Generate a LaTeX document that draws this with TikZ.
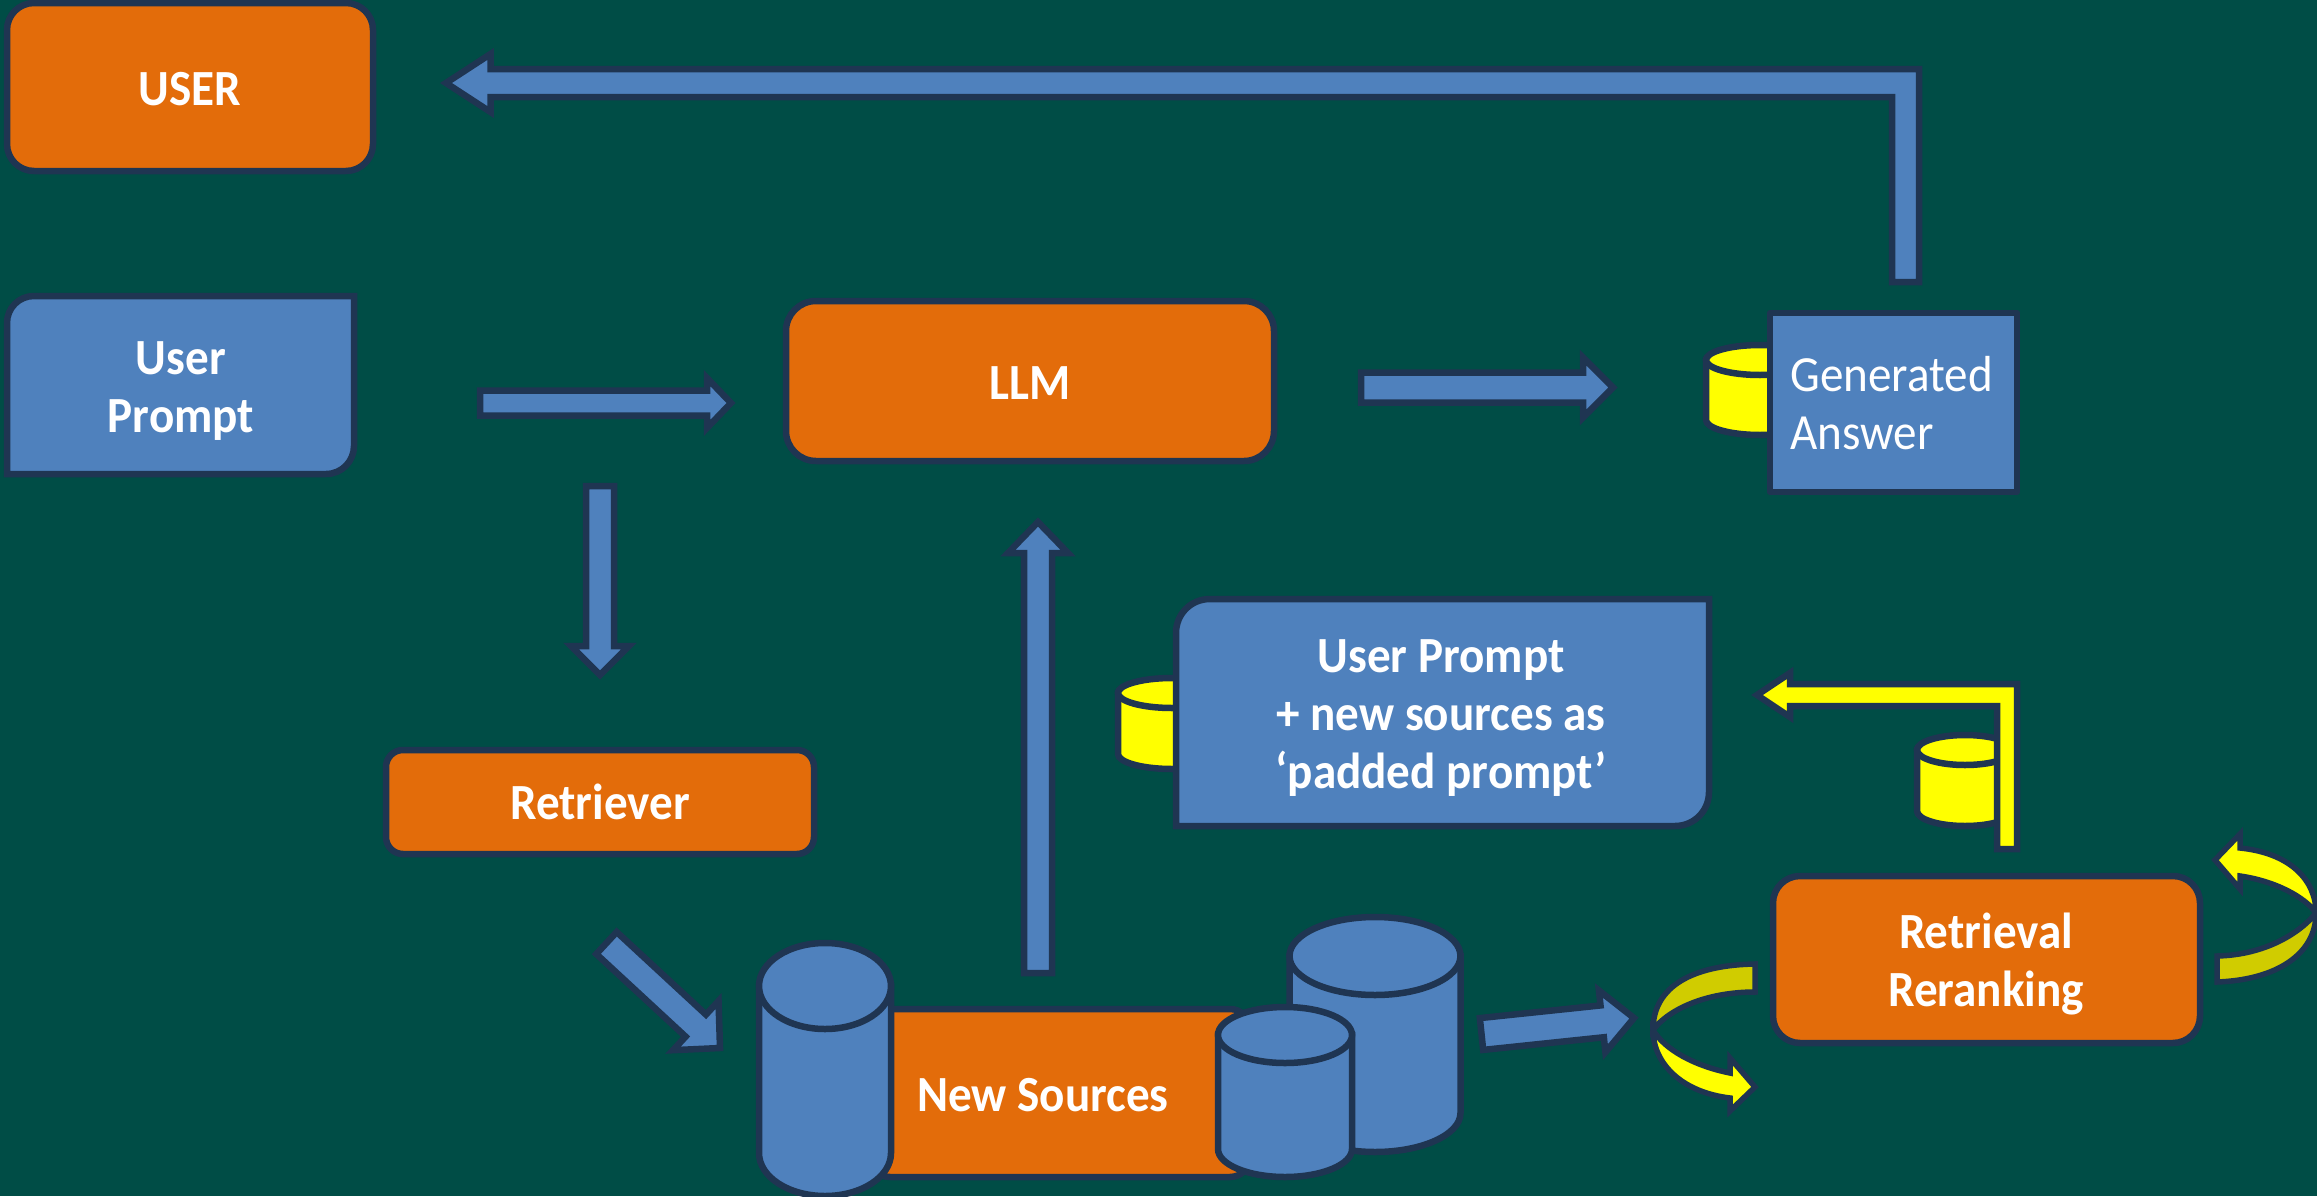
\documentclass[tikz,border=0pt]{standalone}
\usepackage{fontspec}
\setmainfont{Carlito}[FakeStretch=0.93]
\usetikzlibrary{calc}
\definecolor{bgteal}{HTML}{004D46}
\definecolor{boxorange}{HTML}{E36C0A}
\definecolor{boxblue}{HTML}{4F81BD}
\definecolor{edgeblue}{HTML}{1F3552}
\definecolor{pureyellow}{HTML}{FFFF00}
\definecolor{darkyellow}{HTML}{D0CC00}
\def\pxu{0.75pt}
\tikzset{
  outline/.style={draw=edgeblue,line width=6.5*\pxu,line join=miter},
  ribline/.style={draw=edgeblue,line width=5.5*\pxu,line join=miter},
  obox/.style={outline,fill=boxorange,rectangle,inner sep=0pt,rounded corners=#1*\pxu},
  bbox/.style={outline,fill=boxblue},
  boxwh/.style 2 args={minimum width=#1*\pxu,minimum height=#2*\pxu},
  lbl/.style={text=white,inner sep=0pt,font=\fontsize{38}{43.5}\selectfont\bfseries,anchor=base},
  lblreg/.style={text=white,inner sep=0pt,font=\fontsize{38}{43.5}\selectfont,anchor=base},
  barrow/.style={outline,fill=boxblue},
  yarrow/.style={outline,fill=pureyellow},
  yrib/.style={ribline,fill=pureyellow},
  darkrib/.style={ribline,fill=darkyellow},
}
\newcommand\blockarrow[6]{%
  \coordinate (ba-h) at ($(#2)!#5*\pxu!(#1)$);
  \draw[#6] ($(#1)!#3*\pxu!90:(#2)$) -- ($(ba-h)!#3*\pxu!-90:(#1)$)
    -- ($(ba-h)!#4*\pxu!-90:(#1)$) -- (#2)
    -- ($(ba-h)!#4*\pxu!90:(#1)$) -- ($(ba-h)!#3*\pxu!90:(#1)$)
    -- ($(#1)!#3*\pxu!-90:(#2)$) -- cycle;}
\newcommand\cyl[7]{% name, cx, y top, y bottom, rx, ry, fill
  \coordinate (#1) at (#2,#3);
  \draw[outline,fill=#7] ({#2-#5},#3) -- ({#2-#5},#4)
     arc[start angle=180,end angle=360,x radius=#5*\pxu,y radius=#6*\pxu]
     -- ({#2+#5},#3) -- cycle;
  \draw[outline,fill=#7] (#2,#3) ellipse [x radius=#5*\pxu,y radius=#6*\pxu];}
\newcommand\twolines[2]{\begin{tabular}[t]{@{}c@{}}#1\\#2\end{tabular}}
\begin{document}
\begin{tikzpicture}[x=0.75pt,y=-0.75pt]
\useasboundingbox (0,0) rectangle (2317,1196);
\fill[bgteal] (0,0) rectangle (2317,1196);

% boxes
\node[obox=27,boxwh={366}{168}] (userbox) at (190,87) {};
\node[lbl] (usertxt) at (190,105) {USER};

\draw[bbox] (7,323) .. controls (7,308) and (19,296) .. (34,296) -- (354,296) -- (354,446)
   .. controls (354,461) and (342,474) .. (326,474) -- (7,474) -- cycle;
\node[lbl] (prompttxt) at (181,374) {\twolines{User}{Prompt}};

\node[obox=30,boxwh={488}{160}] (llm) at (1030,381) {};
\node[lbl] (llmtxt) at (1030,399) {LLM};

\node[obox=17,boxwh={428}{104}] (retriever) at (600,802) {};
\node[lbl] (rettxt) at (600,819) {Retriever};

\cyl{cylgen}{1760}{360}{420}{54}{15}{pureyellow}
\node[bbox,line join=round,rectangle,inner sep=0pt,boxwh={247}{179}] (genbox) at (1893.5,402.5) {};
\node[lblreg,anchor=base west] (gentxt) at (1790,391) {\begin{tabular}[t]{@{}l@{}}Generated\\Answer\end{tabular}};

\cyl{cylpad}{1172}{693}{754}{54}{15}{pureyellow}
\draw[bbox] (1176,633) .. controls (1176,614) and (1191,599) .. (1210,599) -- (1709,599) -- (1709,792)
   .. controls (1709,811) and (1694,826) .. (1675,826) -- (1176,826) -- cycle;
\node[lbl] (padtxt) at (1441,672) {\begin{tabular}[t]{@{}c@{}}User Prompt\\+ new sources as\\‘padded prompt’\end{tabular}};

\node[obox=27,boxwh={427}{167}] (rerank) at (1986.5,959.5) {};
\node[lbl] (reranktxt) at (1986,948) {\twolines{Retrieval}{Reranking}};

% new sources group
\node[obox=20,boxwh={380}{168}] (sources) at (1060,1093) {};
\node[lbl] (sourcestxt) at (1043,1111) {New Sources};
\cyl{cylleft}{825}{986}{1153}{66}{43}{boxblue}
\cyl{cylbig}{1375}{956}{1113}{85.5}{39}{boxblue}
\cyl{cylsmall}{1285}{1035}{1149}{67}{28}{boxblue}

% straight block arrows
\coordinate (a1s) at (480,403);   \coordinate (a1t) at (731,403);
\blockarrow{a1s}{a1t}{12.5}{25}{24}{barrow}
\coordinate (a2s) at (1361,387.5); \coordinate (a2t) at (1613,387.5);
\blockarrow{a2s}{a2t}{15}{30}{30}{barrow}
\coordinate (a3s) at (600,486);   \coordinate (a3t) at (600,675);
\blockarrow{a3s}{a3t}{14}{29}{29}{barrow}
\coordinate (a4s) at (1038,973);  \coordinate (a4t) at (1038,522);
\blockarrow{a4s}{a4t}{14}{30}{31}{barrow}
\coordinate (a5s) at (606.5,943); \coordinate (a5t) at (720,1048);
\blockarrow{a5s}{a5t}{15}{33.5}{33}{barrow}
\coordinate (a6s) at (1481.5,1034); \coordinate (a6t) at (1634,1018);
\blockarrow{a6s}{a6t}{16}{31}{32}{barrow}

% elbow arrow: generated answer to user
\coordinate (e1s) at (1905.5,282); \coordinate (e1c) at (1905.5,83); \coordinate (e1t) at (446,83);
\draw[barrow] ($(e1s)+(13.5,0)$) -- ($(e1c)+(13.5,-14)$) -- (490.5,69) -- (490.5,54)
   -- (e1t) -- (490.5,112) -- (490.5,97) -- ($(e1c)+(-13.5,14)$) -- ($(e1s)+(-13.5,0)$) -- cycle;

% yellow elbow arrow
\cyl{cylmid}{1965}{750}{811}{48}{15}{pureyellow}
\coordinate (e2s) at (2007,849); \coordinate (e2c) at (2007,695); \coordinate (e2t) at (1757,695);
\draw[yarrow] ($(e2s)+(10,0)$) -- ($(e2c)+(10,-11)$) -- (1790,684) -- (1790,673)
   -- (e2t) -- (1790,717) -- (1790,706) -- ($(e2c)+(-10,11)$) -- ($(e2s)+(-10,0)$) -- cycle;

% curved ribbon, lower left
\draw[darkrib] (1755,964) .. controls (1695,965) and (1653,985) .. (1653,1030)
   .. controls (1668,1010) and (1705,992) .. (1755,992) -- cycle;
\draw[yrib] (1653,1030) .. controls (1653,1062) and (1680,1092) .. (1730,1098)
   -- (1730,1111) -- (1755,1087) -- (1730,1058) -- (1730,1073)
   .. controls (1695,1066) and (1665,1050) .. (1653,1030) -- cycle;

% curved ribbon, upper right
\draw[darkrib] (2217,982) .. controls (2275,980) and (2316,955) .. (2316,913)
   .. controls (2300,933) and (2265,955) .. (2217,956) -- cycle;
\draw[yrib] (2316,913) .. controls (2316,880) and (2290,853) .. (2240,848)
   -- (2240,834) -- (2215,860) -- (2240,889) -- (2240,876)
   .. controls (2275,881) and (2305,897) .. (2316,913) -- cycle;
\end{tikzpicture}
\end{document}
